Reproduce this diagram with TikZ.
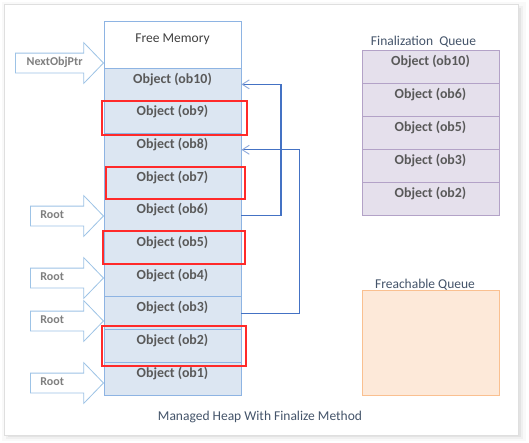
\documentclass[tikz,border=0pt]{standalone}
\usepackage{fontspec}
\setmainfont{Carlito}
\usetikzlibrary{shapes.arrows,arrows.meta}
\definecolor{heapfill}{HTML}{DCE6F2}
\definecolor{heapline}{HTML}{8EB4E3}
\definecolor{finfill}{HTML}{E5E0EC}
\definecolor{finline}{HTML}{B3A2C7}
\definecolor{frfill}{HTML}{FDE9D9}
\definecolor{frline}{HTML}{FAC090}
\definecolor{linkblue}{HTML}{4472C4}
\definecolor{tipblue}{HTML}{8FAADC}
\definecolor{objtext}{HTML}{595959}
\definecolor{freetext}{HTML}{404040}
\definecolor{titletext}{HTML}{44546A}
\definecolor{ptrtext}{HTML}{7F7F7F}
\definecolor{ptrline}{HTML}{9DC3E6}
\definecolor{hired}{HTML}{FF2A2A}

\begin{document}
\begin{tikzpicture}[
    x=1pt, y=-1pt,
    cell/.style={rectangle, draw=heapline, fill=heapfill, line width=0.9pt, minimum width=137pt, minimum height=32.7pt, inner ysep=0pt, text height=15pt, text depth=17.7pt, font=\fontsize{13.9}{16}\selectfont\bfseries, text=objtext},
    fcell/.style={cell, draw=finline, fill=finfill, minimum height=33pt, text depth=18pt},
    ptr/.style={single arrow, draw=ptrline, fill=white, line width=0.8pt, single arrow head extend=10.5pt, single arrow tip angle=92, text height=8pt, text depth=3pt, inner ysep=4pt, inner xsep=2pt, font=\fontsize{12}{14}\selectfont\bfseries, text=ptrtext, anchor=tip},
    caption/.style={font=\fontsize{13.5}{16}\selectfont, text=titletext, anchor=base, inner sep=0pt},
    hilite/.style={draw=hired, line width=1.1pt},
    link/.style={draw=linkblue, line width=1.2pt, -{Straight Barb[length=7pt, width=9pt, line width=0.9pt, color=tipblue]}},
]
\useasboundingbox (0,0) rectangle (529,442);
% panel with shadow
\fill[gray!5] (2,2) rectangle (526,441);
\fill[gray!12] (6,6) rectangle (523,439);
\fill[gray!22] (8,8) rectangle (521,437);
\draw[gray!25, fill=white] (4,4) rectangle (518.5,435);

% managed heap
\node[cell, fill=white, minimum height=47pt, text height=21.7pt, text depth=25.3pt, font=\fontsize{13.5}{16}\selectfont, text=freetext] (free) at (172.5,44.5) {Free Memory};
\node[cell] (ob10) at (172.5,84.35) {Object (ob10)};
\node[cell] (ob9) at (172.5,117.05) {Object (ob9)};
\node[cell] (ob8) at (172.5,149.75) {Object (ob8)};
\node[cell] (ob7) at (172.5,182.45) {Object (ob7)};
\node[cell] (ob6) at (172.5,215.15) {Object (ob6)};
\node[cell] (ob5) at (172.5,247.85) {Object (ob5)};
\node[cell] (ob4) at (172.5,280.55) {Object (ob4)};
\node[cell] (ob3) at (172.5,313.25) {Object (ob3)};
\node[cell] (ob2) at (172.5,345.95) {Object (ob2)};
\node[cell] (ob1) at (172.5,378.65) {Object (ob1)};

% objects with finalize
\draw[hilite] (102,101) rectangle (247,135);
\draw[hilite] (106,167) rectangle (245,199);
\draw[hilite] (103,231) rectangle (245,264);
\draw[hilite] (102,326) rectangle (246,366);

% pointers into the heap
\node[ptr, minimum height=88pt] (nextptr) at (104,63) {NextObjPtr};
\node[ptr, minimum height=73pt] (root6) at (104,216) {Root\hspace*{20pt}};
\node[ptr, minimum height=73pt] (root4) at (104,278) {Root\hspace*{20pt}};
\node[ptr, minimum height=73pt] (root3) at (104,321) {Root\hspace*{20pt}};
\node[ptr, minimum height=73pt] (root1) at (104,383) {Root\hspace*{20pt}};

% references between objects
\draw[link] (ob6.east) -- ++(39.5,0) |- (ob10.east);
\draw[link] (ob3.east) -- ++(58,0) |- (ob8.east);

% finalization queue
\node[caption] (fintitle) at (423.5,45.3) {Finalization\ \ Queue};
\node[fcell] (fq10) at (430.5,66.5) {Object (ob10)};
\node[fcell] (fq6) at (430.5,99.5) {Object (ob6)};
\node[fcell] (fq5) at (430.5,132.5) {Object (ob5)};
\node[fcell] (fq3) at (430.5,165.5) {Object (ob3)};
\node[fcell] (fq2) at (430.5,198.5) {Object (ob2)};

% freachable queue
\node[rectangle, draw=frline, fill=frfill, line width=0.9pt, minimum width=137pt, minimum height=105pt] (freach) at (430.5,342.5) {};
\node[caption] (frtitle) at (425,288) {Freachable Queue};

\node[caption] (heaptitle) at (260,420) {Managed Heap With Finalize Method};
\end{tikzpicture}
\end{document}
